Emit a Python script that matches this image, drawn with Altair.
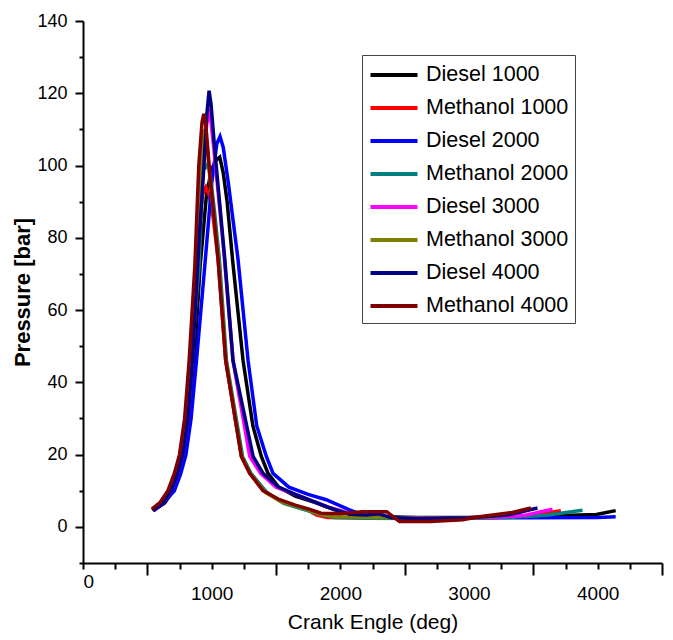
import altair as alt
import pandas as pd

series_names = ["Diesel 1000", "Methanol 1000", "Diesel 2000", "Methanol 2000",
                "Diesel 3000", "Methanol 3000", "Diesel 4000", "Methanol 4000"]
series_colors = ["#000000", "#ff0000", "#0000ff", "#008080",
                 "#ff00ff", "#808000", "#000080", "#800000"]

d1000_x = [545, 635, 700, 750, 790, 830, 865, 910, 960, 1000, 1035, 1063, 1090, 1120, 1165, 1244, 1320, 1386, 1438, 1520, 1650, 1800, 1950, 2100, 2300, 2600, 3000, 3400, 3800, 3990, 4140]
d1000_y = [4.5, 6.6, 10, 14.8, 20, 30, 46, 72, 92, 99, 101.5, 102.3, 98, 90, 73, 46, 28, 19.5, 14.8, 11, 8.5, 6.8, 4.8, 3.3, 2.8, 2.6, 2.6, 2.8, 3.2, 3.4, 4.5]

m1000_x = [540, 608, 668, 718, 758, 798, 833, 877, 905, 930, 955, 980, 1010, 1050, 1109, 1231, 1296, 1400, 1528, 1650, 1750, 1813, 1900, 2100, 2400, 2800, 3200, 3500, 3714]
m1000_y = [4.5, 6.8, 10, 14.8, 20, 30, 46, 72, 85, 92, 94, 92, 86, 74, 46, 19.5, 14.8, 10, 7.3, 5.7, 4.6, 3.3, 2.6, 2.5, 2.4, 2.4, 2.6, 3.2, 4.5]

d2000_x = [548, 620, 710, 760, 800, 840, 882, 946, 1000, 1040, 1065, 1090, 1130, 1205, 1283, 1350, 1425, 1477, 1600, 1750, 1890, 2071, 2200, 2500, 3000, 3500, 4000, 4140]
d2000_y = [4.4, 6.5, 10, 14.8, 20, 30, 46, 72, 95, 106, 108, 105, 95, 74, 46, 28, 19.5, 14.8, 11, 9, 7.5, 4.7, 3.0, 2.5, 2.5, 2.5, 2.6, 2.8]

m2000_x = [542, 615, 675, 725, 765, 805, 840, 902, 932, 955, 972, 990, 1020, 1060, 1115, 1240, 1305, 1430, 1560, 1700, 1850, 1950, 2200, 2600, 3000, 3300, 3600, 3882]
m2000_y = [4.4, 6.8, 10, 14.8, 20, 30, 46, 72, 98.8, 99.5, 100.6, 97, 88, 74, 46, 19.5, 14.8, 9.5, 6.5, 5, 3.4, 2.6, 2.4, 2.3, 2.4, 2.6, 3.2, 4.6]

d3000_x = [545, 625, 685, 735, 775, 815, 850, 900, 935, 960, 980, 995, 1030, 1090, 1166, 1296, 1380, 1500, 1650, 1761, 1900, 2100, 2400, 2800, 3200, 3450, 3649]
d3000_y = [4.5, 6.8, 10, 14.8, 20, 30, 46, 78, 100, 111, 115.8, 112, 100, 78, 46, 19.5, 14.8, 11, 9, 7.5, 5.5, 3.5, 2.6, 2.5, 2.6, 3.3, 4.9]

m3000_x = [540, 605, 665, 715, 755, 795, 830, 874, 905, 930, 946, 960, 990, 1053, 1111, 1233, 1298, 1420, 1540, 1700, 1830, 1950, 2300, 2600, 3000, 3200, 3450]
m3000_y = [4.6, 6.8, 10, 14.8, 20, 30, 46, 72, 95, 106, 110, 107, 95, 74, 46, 19.5, 14.8, 9.5, 7, 5.3, 3.6, 2.8, 2.6, 2.4, 2.5, 2.9, 4.6]

d4000_x = [545, 625, 685, 735, 775, 815, 850, 900, 940, 962, 980, 995, 1025, 1102, 1166, 1322, 1399, 1520, 1650, 1761, 1900, 2071, 2200, 2300, 2400, 2600, 3000, 3300, 3532]
d4000_y = [4.5, 6.8, 10, 14.8, 20, 30, 46, 78, 100, 114, 120.7, 117, 104, 74, 46, 19.5, 14.8, 11, 9, 7.5, 5.5, 3.5, 3.3, 3.6, 2.5, 2.3, 2.5, 3.3, 5.2]

m4000_x = [535, 600, 660, 710, 750, 790, 825, 869, 900, 925, 939, 955, 985, 1050, 1109, 1231, 1296, 1400, 1528, 1650, 1750, 1850, 2000, 2172, 2360, 2460, 2700, 2950, 3080, 3337, 3481]
m4000_y = [4.9, 6.8, 10, 14.8, 20, 30, 46, 72, 100, 112, 114.3, 111, 98, 74, 46, 19.5, 14.8, 10, 7.5, 6, 5, 3.8, 3.6, 4.2, 4.2, 1.5, 1.5, 2.0, 2.8, 4, 5.2]

series_x = [d1000_x, m1000_x, d2000_x, m2000_x, d3000_x, m3000_x, d4000_x, m4000_x]
series_y = [d1000_y, m1000_y, d2000_y, m2000_y, d3000_y, m3000_y, d4000_y, m4000_y]

x_tick_values = list(range(0, 4501, 250))
y_tick_values = list(range(-10, 141, 10))

rows = []
for k, (name, xs, ys) in enumerate(zip(series_names, series_x, series_y)):
    for i, (xv, yv) in enumerate(zip(xs, ys)):
        rows.append({"series": name, "angle": xv, "pressure": yv, "idx": i, "s": k})
df = pd.DataFrame(rows)

FONT = "Liberation Sans"

chart = alt.Chart(df).mark_line(strokeWidth=3.5).encode(
    x=alt.X(
        "angle:Q",
        scale=alt.Scale(domain=[0, 4500], nice=False, zero=False),
        axis=alt.Axis(
            values=x_tick_values,
            format="d",
            labelExpr="datum.value % 1000 == 0 ? datum.label : ''",
            tickSize={"condition": {"test": "datum.value % 1000 == 500", "value": 12}, "value": 6},
            labelPadding={"condition": {"test": "datum.value == 0", "value": 3}, "value": 15},
            title="Crank Engle (deg)",
            titleFontSize=21,
            titleFontWeight="normal",
            titlePadding=8,
            grid=False,
        ),
    ),
    y=alt.Y(
        "pressure:Q",
        scale=alt.Scale(domain=[-10, 140], nice=False, zero=False),
        axis=alt.Axis(
            values=y_tick_values,
            format="d",
            labelExpr="(datum.value % 20 == 0 && datum.value >= 0) ? datum.label : ''",
            tickSize={"condition": {"test": "datum.value % 20 == 0", "value": 8}, "value": 4},
            labelPadding=8,
            labelFontSize=18,
            title="Pressure [bar]",
            titleFontSize=22,
            titleFontWeight="bold",
            titlePadding=2,
            grid=False,
        ),
    ),
    color=alt.Color(
        "series:N",
        scale=alt.Scale(domain=series_names, range=series_colors),
        sort=series_names,
        legend=alt.Legend(
            orient="none",
            legendX=279,
            legendY=34,
            title=None,
            strokeColor="#444444",
            fillColor="white",
            padding=6,
            labelFont=FONT,
            labelFontSize=21.5,
            labelColor="black",
            labelOffset=18,
            symbolType="M-2,0L2,0",
            symbolStrokeWidth=4,
            symbolSize=552,
            symbolOffset=12,
            rowPadding=8,
        ),
    ),
    order=alt.Order("idx:Q"),
).properties(
    width=579,
    height=542,
    padding={"left": 83, "top": 21, "right": 11, "bottom": 77},
    autosize=alt.AutoSizeParams(type="none"),
).configure_view(
    stroke=None
).configure_axis(
    domainColor="black",
    domainWidth=2,
    tickColor="black",
    tickWidth=2,
    labelFont=FONT,
    labelFontSize=19,
    labelColor="black",
    titleFont=FONT,
    titleColor="black",
)

chart.save("out.html", embed_options={"renderer": "svg", "actions": False})
